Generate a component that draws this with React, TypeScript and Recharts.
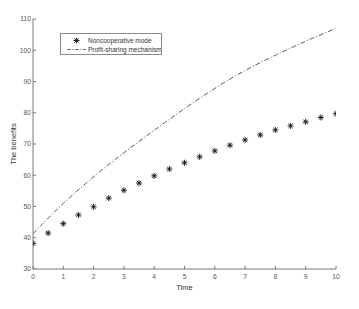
import React from "react";
import {
  ComposedChart,
  Line,
  Scatter,
  XAxis,
  YAxis,
  Legend,
  Label,
} from "recharts";

const times = [0, 0.5, 1, 1.5, 2, 2.5, 3, 3.5, 4, 4.5, 5, 5.5, 6, 6.5, 7, 7.5, 8, 8.5, 9, 9.5, 10];
const noncooperative = [
  38.2, 41.5, 44.5, 47.3, 49.9, 52.7, 55.2, 57.5, 59.8, 62.0, 64.0, 65.9, 67.8,
  69.6, 71.3, 72.9, 74.5, 75.8, 77.1, 78.5, 79.7,
];
const profitTimes = [0, 1, 2, 3, 4, 5, 6, 7, 8, 9, 10];
const profitSharing = [41.3, 51.0, 59.5, 67.2, 74.4, 81.3, 87.8, 93.5, 98.4, 102.9, 107.0];

const xTicks = [0, 1, 2, 3, 4, 5, 6, 7, 8, 9, 10];
const yTicks = [30, 40, 50, 60, 70, 80, 90, 100, 110];

const data = times.map((t, i) => {
  const j = profitTimes.indexOf(t);
  return {
    time: t,
    noncoop: noncooperative[i],
    profit: j >= 0 ? profitSharing[j] : undefined,
  };
});

const font = "'Liberation Sans', Arial, sans-serif";
const axisColor = "#7a7a7a";
const tickText = { fontSize: 6.7, fill: "#555", fontFamily: font };

function Asterisk(props: any) {
  const { cx, cy } = props;
  if (cx == null || cy == null) return null;
  const r = 3;
  const d = 2.2;
  return (
    <g stroke="#111" strokeWidth={0.9}>
      <line x1={cx - r} y1={cy} x2={cx + r} y2={cy} />
      <line x1={cx} y1={cy - r} x2={cx} y2={cy + r} />
      <line x1={cx - d} y1={cy - d} x2={cx + d} y2={cy + d} />
      <line x1={cx - d} y1={cy + d} x2={cx + d} y2={cy - d} />
    </g>
  );
}

function LegendBox() {
  return (
    <div
      style={{
        width: 100,
        height: 20,
        border: "0.8px solid #8a8a8a",
        background: "#fff",
        position: "relative",
      }}
    >
      <svg width={100} height={20} style={{ position: "absolute", left: 0, top: 0 }}>
        <Asterisk cx={15.5} cy={6.5} />
        <line x1={6} y1={15.5} x2={25} y2={15.5} stroke="#333" strokeWidth={0.7} strokeDasharray="4 1.5 1 1.5" />
        <text x={27} y={6.5} dy="0.35em" fontSize={6.5} fill="#333" fontFamily={font}>
          Noncooperative mode
        </text>
        <text x={27} y={15.5} dy="0.35em" fontSize={6.5} fill="#333" fontFamily={font}>
          Profit-sharing mechanism
        </text>
      </svg>
    </div>
  );
}

export default function App() {
  return (
    <div style={{ position: "absolute", left: 0, top: 0, width: 359, height: 309, background: "#fff" }}>
      <ComposedChart
        width={359}
        height={309}
        data={data}
        margin={{ top: 19, right: 23, bottom: 15, left: 8 }}
      >
        <XAxis
          dataKey="time"
          type="number"
          domain={[0, 10]}
          ticks={xTicks}
          height={25}
          stroke={axisColor}
          tickSize={-3}
          tickMargin={8}
          tick={tickText}
          allowDataOverflow
        >
          <Label value="Time" position="insideBottom" offset={4.5} style={{ fontSize: 7.5, fill: "#333", fontFamily: font }} />
        </XAxis>
        <XAxis
          xAxisId="top"
          orientation="top"
          dataKey="time"
          type="number"
          domain={[0, 10]}
          ticks={xTicks}
          height={0}
          stroke={axisColor}
          tickSize={-3}
          tick={false}
        />
        <YAxis
          type="number"
          domain={[30, 110]}
          ticks={yTicks}
          width={25}
          stroke={axisColor}
          tickSize={-3}
          tickMargin={5}
          tick={tickText}
          allowDataOverflow
        >
          <Label
            value="The benefits"
            angle={-90}
            position="insideLeft"
            offset={5}
            style={{ fontSize: 7.5, fill: "#333", fontFamily: font, textAnchor: "middle" }}
          />
        </YAxis>
        <YAxis
          yAxisId="right"
          orientation="right"
          type="number"
          domain={[30, 110]}
          ticks={yTicks}
          width={0}
          stroke={axisColor}
          tickSize={-3}
          tick={false}
        />
        <Legend
          layout="vertical"
          align="center"
          verticalAlign="middle"
          wrapperStyle={{ position: "absolute", left: 60, top: 33, width: 102, height: 22 }}
          content={() => <LegendBox />}
        />
        <Line
          dataKey="profit"
          type="monotone"
          stroke="#333"
          strokeWidth={0.8}
          strokeDasharray="5 2 1 2"
          dot={false}
          activeDot={false}
          connectNulls
          isAnimationActive={false}
          legendType="none"
        />
        <Scatter dataKey="noncoop" shape={<Asterisk />} isAnimationActive={false} legendType="none" />
      </ComposedChart>
    </div>
  );
}
